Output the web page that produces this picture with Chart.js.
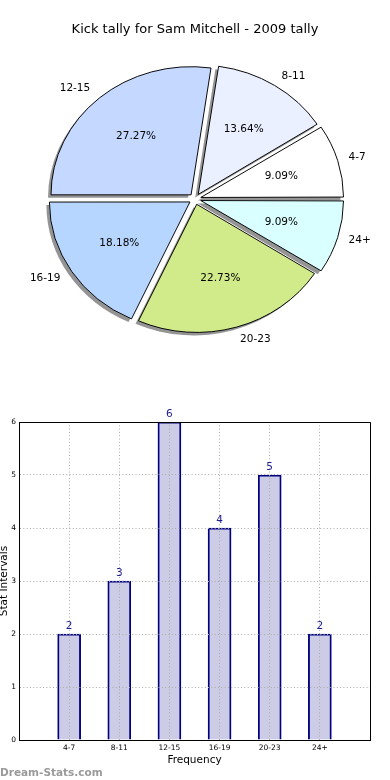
<!DOCTYPE html>
<html>
<head>
<meta charset="utf-8">
<script src="https://cdn.jsdelivr.net/npm/chart.js@4.4.0/dist/chart.umd.min.js"></script>
<style>
  html, body { margin: 0; padding: 0; background: #fff; }
  body { width: 390px; height: 780px; position: relative; overflow: hidden; }
  #pie-wrap { position: absolute; left: 0; top: 0; width: 390px; height: 380px; }
  #bar-wrap { position: absolute; left: 0; top: 380px; width: 390px; height: 400px; }
  #credit { position: absolute; left: 0; top: 766px; line-height: 12px;
            font: bold 10.5px 'DejaVu Sans', sans-serif; color: #9a9a9a; }
</style>
</head>
<body>
<div id="pie-wrap"><canvas id="pie"></canvas></div>
<div id="bar-wrap"><canvas id="bar"></canvas></div>
<div id="credit">Dream-Stats.com</div>
<script>
// ── Data ────────────────────────────────────────────────────────────
const categories = ['4-7', '8-11', '12-15', '16-19', '20-23', '24+'];
const counts     = [2, 3, 6, 4, 5, 2];
const chartTitle = 'Kick tally for Sam Mitchell - 2009 tally';
const xTitle     = 'Frequency';
const yTitle     = 'Stat Intervals';

const FONT = "'DejaVu Sans', sans-serif";
const SY = 0.915;   // the original pie is a little squashed vertically
const total = counts.reduce((a, b) => a + b, 0);

// ── Pie ─────────────────────────────────────────────────────────────
const pieColors = ['#ffffff', '#eaf0ff', '#c5d8ff', '#b7d6ff', '#d1eb8a', '#d9ffff'];

// matplotlib starts at 3 o'clock going counter-clockwise, Chart.js goes clockwise,
// so the slices go in reversed and start at 90deg
const pieLabels = categories.slice().reverse();
const pieValues = counts.slice().reverse();
const pieFill   = pieColors.slice().reverse();

function squash(ctx, cx, cy) {
  ctx.translate(cx, cy);
  ctx.scale(1, SY);
  ctx.translate(-cx, -cy);
}

function sliceGeom(a) {
  const d = (a.options.offset || 0) / 4;
  const mid = (a.startAngle + a.endAngle) / 2;
  const fix = 1 - Math.sin(Math.min(Math.PI, a.circumference));
  return { mid, d, ox: Math.cos(mid) * d, oy: Math.sin(mid) * d, r: a.outerRadius + d * fix };
}

const piePlugin = {
  id: 'piePlugin',
  beforeDatasetsDraw(chart) {
    const ctx = chart.ctx;
    const arcs = chart.getDatasetMeta(0).data;
    const { x, y } = arcs[0];
    // drop shadow, down and to the left
    ctx.save();
    ctx.translate(-3, 3);
    squash(ctx, x, y);
    ctx.fillStyle = 'rgba(0,0,0,0.42)';
    arcs.forEach(a => {
      const g = sliceGeom(a);
      ctx.beginPath();
      ctx.moveTo(x + g.ox, y + g.oy);
      ctx.arc(x + g.ox, y + g.oy, g.r, a.startAngle, a.endAngle);
      ctx.closePath();
      ctx.fill();
    });
    ctx.restore();
    ctx.save();
    squash(ctx, x, y);   // undone in afterDatasetsDraw
  },
  afterDatasetsDraw(chart) {
    const ctx = chart.ctx;
    ctx.restore();
    const arcs = chart.getDatasetMeta(0).data;
    ctx.save();
    ctx.font = '10.5px ' + FONT;
    ctx.fillStyle = '#000';
    ctx.textBaseline = 'middle';
    arcs.forEach((a, i) => {
      const g = sliceGeom(a);
      const c = Math.cos(g.mid), s = Math.sin(g.mid);
      let k = g.d + a.outerRadius * 1.1;
      ctx.textAlign = c >= 0 ? 'left' : 'right';
      ctx.fillText(pieLabels[i], a.x + c * k, a.y + s * k * SY);
      k = g.d + a.outerRadius * 0.6;
      ctx.textAlign = 'center';
      ctx.fillText((pieValues[i] / total * 100).toFixed(2) + '%', a.x + c * k, a.y + s * k * SY);
    });
    ctx.restore();
  }
};

new Chart(document.getElementById('pie'), {
  type: 'pie',
  data: {
    labels: pieLabels,
    datasets: [{
      data: pieValues,
      backgroundColor: pieFill,
      borderColor: '#000',
      borderWidth: 1,
      offset: 24,
      rotation: 90,
      radius: 140,
      clip: false
    }]
  },
  options: {
    responsive: true,
    maintainAspectRatio: false,
    animation: false,
    events: [],
    layout: { padding: { bottom: 19.6 } },
    plugins: {
      legend: { display: false },
      tooltip: { enabled: false },
      title: {
        display: true, text: chartTitle, color: '#000',
        font: { family: FONT, size: 13, weight: 'normal' },
        padding: { top: 22, bottom: 0 }
      }
    }
  },
  plugins: [piePlugin]
});

// ── Bars ────────────────────────────────────────────────────────────
const barData = categories.map((c, i) => ({ x: i, y: counts[i] }));

const barPlugin = {
  id: 'barPlugin',
  afterDraw(chart) {
    const { ctx, chartArea: a } = chart;
    ctx.save();
    // top + right frame
    ctx.strokeStyle = '#000';
    ctx.lineWidth = 1;
    ctx.beginPath();
    ctx.moveTo(Math.round(a.left), Math.round(a.top) + 0.5);
    ctx.lineTo(Math.round(a.right) + 0.5, Math.round(a.top) + 0.5);
    ctx.lineTo(Math.round(a.right) + 0.5, Math.round(a.bottom));
    ctx.stroke();
    // value on top of every bar
    ctx.font = '10.5px ' + FONT;
    ctx.fillStyle = '#1d1d8f';
    ctx.textAlign = 'center';
    ctx.textBaseline = 'alphabetic';
    chart.getDatasetMeta(0).data.forEach((b, i) => {
      ctx.fillText(String(counts[i]), b.x, b.y - 5);
    });
    ctx.restore();
  }
};

const tickFont = { family: FONT, size: 7.5 };

new Chart(document.getElementById('bar'), {
  type: 'bar',
  data: {
    datasets: [{
      data: barData,
      backgroundColor: 'rgba(0,0,128,0.2)',
      borderColor: '#000080',
      borderWidth: 1.2,
      barThickness: 23
    }]
  },
  options: {
    responsive: true,
    maintainAspectRatio: false,
    animation: false,
    events: [],
    layout: { padding: { top: 42, right: 20, left: 0, bottom: 0 } },
    plugins: { legend: { display: false }, tooltip: { enabled: false } },
    scales: {
      x: {
        type: 'linear', min: -1, max: 6, offset: false,
        afterFit(scale) { scale.height = 40; },
        ticks: {
          stepSize: 1, padding: 4, color: '#000', font: tickFont, maxRotation: 0, autoSkip: false,
          callback: v => categories[v] || ''
        },
        grid: { color: '#aaa', z: 1, drawTicks: false, offset: false },
        border: { color: '#000', width: 1, dash: [1, 2.3], z: 2 },
        title: {
          display: true, text: xTitle, color: '#000',
          font: { family: FONT, size: 10.5, lineHeight: 1 },
          padding: { top: 0, bottom: 14 }
        }
      },
      y: {
        min: 0, max: 6,
        afterFit(scale) { scale.width = 19; },
        ticks: { stepSize: 1, padding: 3, color: '#000', font: tickFont },
        grid: { color: '#aaa', z: 1, drawTicks: false },
        border: { color: '#000', width: 1, dash: [1, 2.3], z: 2 },
        title: {
          display: true, text: yTitle, color: '#000',
          font: { family: FONT, size: 10.5, lineHeight: 0.8 },
          padding: { top: 0, bottom: 0 }
        }
      }
    }
  },
  plugins: [barPlugin]
});
</script>
</body>
</html>
